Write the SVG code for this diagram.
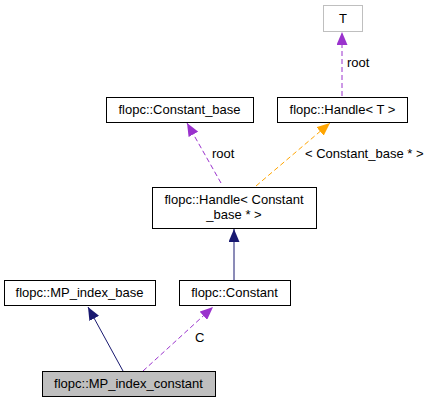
<svg xmlns="http://www.w3.org/2000/svg" width="432" height="403" viewBox="0 0 432 403">
<style>
.box{fill:#fff;stroke:#000;stroke-width:1}
.t{font-family:"Liberation Sans",Arial,sans-serif;font-size:13px;fill:#000;text-anchor:middle}
.l{font-family:"Liberation Sans",Arial,sans-serif;font-size:13px;fill:#000}
.purple{fill:none;stroke:#9a32cd;stroke-dasharray:5,3}
.orange{fill:none;stroke:#ffa500;stroke-dasharray:5,3}
.navy{fill:none;stroke:#191970}
</style>
<defs>
<marker id="ap" markerUnits="userSpaceOnUse" markerWidth="14" markerHeight="11" refX="13" refY="5.5" orient="auto"><path d="M0,0 L13,5.5 L0,11 Z" fill="#9a32cd"/></marker>
<marker id="ao" markerUnits="userSpaceOnUse" markerWidth="14" markerHeight="11" refX="13" refY="5.5" orient="auto"><path d="M0,0 L13,5.5 L0,11 Z" fill="#ffa500"/></marker>
<marker id="an" markerUnits="userSpaceOnUse" markerWidth="14" markerHeight="11" refX="13" refY="5.5" orient="auto"><path d="M0,0 L13,5.5 L0,11 Z" fill="#191970"/></marker>
</defs>
<rect width="432" height="403" fill="#fff"/>
<g id="edges">
<path class="purple" d="M342,96 L342,32" marker-end="url(#ap)"/>
<text class="l" x="347" y="67">root</text>
<path class="purple" d="M221,183 L187,123" marker-end="url(#ap)"/>
<text class="l" x="212" y="158">root</text>
<path class="orange" d="M256,186 L330,123" marker-end="url(#ao)"/>
<text class="l" x="305" y="158">&lt; Constant_base * &gt;</text>
<path class="navy" d="M234,280 L234,229" marker-end="url(#an)"/>
<path class="navy" d="M123,371 L88,307" marker-end="url(#an)"/>
<path class="purple" d="M143,371 L213,307" marker-end="url(#ap)"/>
<text class="l" x="195" y="342">C</text>
</g>
<g id="node_T">
<rect x="323.5" y="5.5" width="39" height="26" fill="#fff" stroke="#bfbfbf"/>
<text class="t" x="343" y="23">T</text>
</g>
<g id="node_Constant_base">
<rect class="box" x="106.5" y="97.5" width="147" height="25"/>
<text class="t" x="179.5" y="114">flopc::Constant_base</text>
</g>
<g id="node_Handle_T">
<rect class="box" x="277.5" y="97.5" width="130" height="25"/>
<text class="t" x="342.5" y="114">flopc::Handle&lt; T &gt;</text>
</g>
<g id="node_Handle_CB">
<rect class="box" x="152.5" y="187.5" width="164" height="41"/>
<text class="t" x="234" y="204">flopc::Handle&lt; Constant</text>
<text class="t" x="234" y="219">_base * &gt;</text>
</g>
<g id="node_MP_index_base">
<rect class="box" x="4.5" y="280.5" width="151" height="25"/>
<text class="t" x="79.5" y="297">flopc::MP_index_base</text>
</g>
<g id="node_Constant">
<rect class="box" x="179.5" y="280.5" width="111" height="25"/>
<text class="t" x="234.5" y="297">flopc::Constant</text>
</g>
<g id="node_MP_index_constant">
<rect x="42.5" y="371.5" width="173" height="25" fill="#bfbfbf" stroke="#000"/>
<text class="t" x="128.5" y="388">flopc::MP_index_constant</text>
</g>
</svg>
